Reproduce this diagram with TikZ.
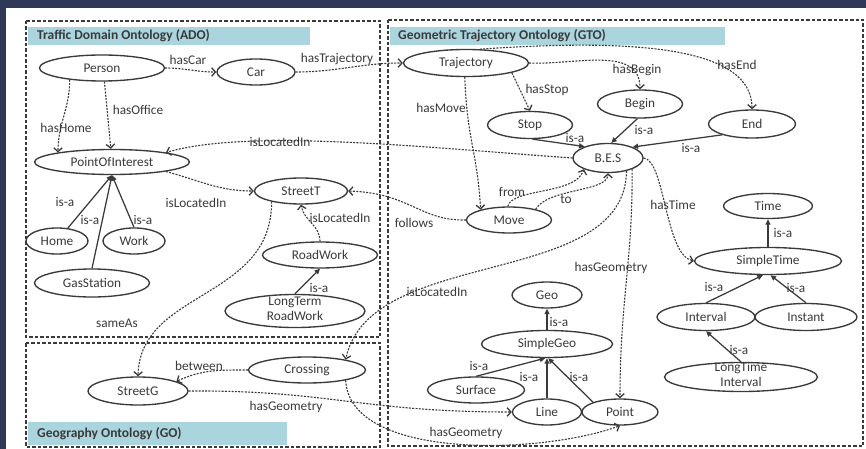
\documentclass[tikz,border=0pt]{standalone}
\usepackage{fontspec}
\setmainfont{Carlito}
\usetikzlibrary{arrows.meta,shapes.geometric}
\definecolor{navy}{RGB}{47,56,87}
\definecolor{hdr}{RGB}{170,212,222}
\definecolor{ink}{RGB}{58,58,58}
\begin{document}
\begin{tikzpicture}[x=1pt,y=-1pt,
  cls/.style={ellipse,draw=ink,line width=1.35pt,inner sep=0pt,text=ink,font=\fontsize{13.3}{15}\selectfont},
  sz/.style 2 args={minimum width=#1pt,minimum height=#2pt},
  rel/.style={draw=ink,line width=1.1pt,dash pattern=on 2pt off 1.3pt,-{Straight Barb[length=3.8pt,width=8.5pt,line width=1.3pt]}},
  isa/.style={draw=ink,line width=1.25pt,-{Triangle[length=5.5pt,width=5pt]}},
  lbl/.style={text=ink,font=\fontsize{13.3}{15}\selectfont,inner sep=0pt},
  grp/.style={draw=ink,line width=1.4pt,dash pattern=on 3.5pt off 2pt},
  hdrtxt/.style={anchor=west,text=ink,font=\bfseries\fontsize{13.5}{15}\selectfont,inner sep=0pt}
]
\useasboundingbox (0,0) rectangle (866,449);
\fill[navy] (0,0) rectangle (866,449);
\fill[white] (6,8) rectangle (866,449);

% group boxes and headers
\draw[grp] (26,21) rectangle (380,337);
\draw[grp] (26,343) rectangle (380,447);
\draw[grp] (388,20) rectangle (863,446);
\fill[hdr] (28,27) rectangle (310,45);
\fill[hdr] (390,27) rectangle (725,45);
\fill[hdr] (28,422) rectangle (287,445);
\node[hdrtxt] (hado) at (37,36) {Traffic Domain Ontology (ADO)};
\node[hdrtxt] (hgto) at (398,36) {Geometric Trajectory Ontology (GTO)};
\node[hdrtxt] (hgo) at (37,434) {Geography Ontology (GO)};

% classes ADO
\node[cls,sz={125}{26}] (person) at (102,68) {Person};
\node[cls,sz={78}{26}] (car) at (256,72) {Car};
\node[cls,sz={155}{25}] (poi) at (112,162) {PointOfInterest};
\node[cls,sz={93}{26}] (streett) at (301,191) {StreetT};
\node[cls,sz={62}{26}] (home) at (57,241) {Home};
\node[cls,sz={62}{26}] (work) at (134,241) {Work};
\node[cls,sz={115}{28}] (gas) at (92,283) {GasStation};
\node[cls,sz={115}{26}] (roadwork) at (320,255) {RoadWork};
\node[cls,sz={140}{33}] (longterm) at (295,311) {\raisebox{-3pt}[0pt][0pt]{\begin{tabular}{@{}c@{}}LongTerm\\RoadWork\end{tabular}}};
% GO
\node[cls,sz={100}{28}] (streetg) at (138,391) {StreetG};
\node[cls,sz={117}{26}] (crossing) at (307,370) {Crossing};
% GTO
\node[cls,sz={125}{27}] (traj) at (466,63) {Trajectory};
\node[cls,sz={85}{28}] (begin) at (640,104) {Begin};
\node[cls,sz={85}{27}] (stop) at (530,125) {Stop};
\node[cls,sz={87}{28}] (endn) at (752,124) {End};
\node[cls,sz={70}{29}] (bes) at (608,158) {B.E.S};
\node[cls,sz={85}{26}] (move) at (509,220) {Move};
\node[cls,sz={89}{25}] (time) at (768,206) {Time};
\node[cls,sz={147}{27}] (simpletime) at (768,261) {SimpleTime};
\node[cls,sz={98}{27}] (interval) at (706,317) {Interval};
\node[cls,sz={102}{27}] (instant) at (806,317) {Instant};
\node[cls,sz={153}{29}] (longtime) at (741,377) {\raisebox{-3pt}[0pt][0pt]{\begin{tabular}{@{}c@{}}LongTime\\Interval\end{tabular}}};
\node[cls,sz={70}{26}] (geo) at (547,295) {Geo};
\node[cls,sz={131}{27}] (simplegeo) at (547,344) {SimpleGeo};
\node[cls,sz={97}{26}] (surface) at (476,390) {Surface};
\node[cls,sz={69}{26}] (line) at (547,412) {Line};
\node[cls,sz={76}{26}] (point) at (620,412) {Point};

% relations
\draw[rel] (person.east) to[out=0,in=180] (car.west);
\draw[rel] (car.east) to[out=0,in=180] (traj.west);
\draw[rel] (person.200) to[out=-90,in=90] (poi.170);
\draw[rel] (person.-80) -- (poi.95);
\draw[rel] (bes.west) .. controls (430,148) and (250,128) .. (poi.10);
\draw[rel] (poi.-10) to[out=-15,in=180] (streett.west);
\draw[rel] (roadwork.north) to[out=90,in=-80] (streett.south);
\draw[rel] (streett.200) .. controls (272,300) and (140,290) .. (streetg.north);
\draw[rel] (move.west) .. controls (420,221) and (410,193) .. (streett.east);
\draw[rel] (crossing.west) to[out=180,in=25] (streetg.14);
\draw[rel] (streetg.east) .. controls (330,390) and (360,412) .. (line.west);
\draw[rel] (crossing.-15) .. controls (350,460) and (540,455) .. (point.south);
\draw[rel] (bes.-35) .. controls (625,290) and (370,245) .. (crossing.15);
\draw[rel] (bes.-25) .. controls (633,260) and (620,300) .. (point.north);
\draw[rel] (bes.east) .. controls (665,160) and (665,255) .. (simpletime.west);
\draw[rel] (traj.-12) -- (stop.north);
\draw[rel] (traj.east) to[out=-3,in=90] (begin.north);
\draw[rel] (traj.45) .. controls (640,38) and (752,48) .. (endn.north);
\draw[rel] (traj.265) .. controls (467,140) and (477,150) .. (move.160);
\draw[rel] (move.95) .. controls (512,188) and (575,195) .. (bes.205);
\draw[rel] (move.22) .. controls (548,188) and (608,192) .. (bes.south);

% is-a
\draw[isa] (home.50) -- (poi.south);
\draw[isa] (gas.north) -- (poi.south);
\draw[isa] (work.north) -- (poi.south);
\draw[isa] (longterm.north) -- (roadwork.south);
\draw[isa] (stop.-80) -- (bes.154);
\draw[isa] (begin.-100) -- (bes.78);
\draw[isa] (endn.200) -- (bes.24);
\draw[isa] (simpletime.north) -- (time.south);
\draw[isa] (interval.north) -- (simpletime.-110);
\draw[isa] (instant.north) -- (simpletime.-80);
\draw[isa] (longtime.north) -- (interval.south);
\draw[isa] (simplegeo.north) -- (geo.south);
\draw[isa] (surface.north) -- (simplegeo.-97);
\draw[isa] (line.north) -- (simplegeo.south);
\draw[isa] (point.160) -- (simplegeo.-85);

% labels
\node[lbl] (l1) at (188,60) {hasCar};
\node[lbl] (l2) at (337,59) {hasTrajectory};
\node[lbl] (l3) at (66,128) {hasHome};
\node[lbl] (l4) at (138,110) {hasOffice};
\node[lbl] (l5) at (280,142) {isLocatedIn};
\node[lbl] (l6) at (196,203) {isLocatedIn};
\node[lbl] (l7) at (65,202) {is-a};
\node[lbl] (l8) at (90,220) {is-a};
\node[lbl] (l9) at (143,220) {is-a};
\node[lbl] (l10) at (340,218) {isLocatedIn};
\node[lbl] (l11) at (414,223) {follows};
\node[lbl] (l12) at (117,323) {sameAs};
\node[lbl] (l13) at (319,288) {is-a};
\node[lbl] (l14) at (199,366) {between};
\node[lbl] (l15) at (286,407) {hasGeometry};
\node[lbl] (l16) at (437,292) {isLocatedIn};
\node[lbl] (l17) at (466,433) {hasGeometry};
\node[lbl] (l18) at (611,268) {hasGeometry};
\node[lbl] (l19) at (575,138) {is-a};
\node[lbl] (l20) at (644,130) {is-a};
\node[lbl] (l21) at (691,148) {is-a};
\node[lbl] (l22) at (547,90) {hasStop};
\node[lbl] (l23) at (637,70) {hasBegin};
\node[lbl] (l24) at (737,65) {hasEnd};
\node[lbl] (l25) at (441,108) {hasMove};
\node[lbl] (l26) at (512,192) {from};
\node[lbl] (l27) at (566,199) {to};
\node[lbl] (l28) at (673,205) {hasTime};
\node[lbl] (l29) at (783,233) {is-a};
\node[lbl] (l30) at (714,287) {is-a};
\node[lbl] (l31) at (796,288) {is-a};
\node[lbl] (l32) at (739,350) {is-a};
\node[lbl] (l33) at (559,322) {is-a};
\node[lbl] (l34) at (479,366) {is-a};
\node[lbl] (l35) at (529,377) {is-a};
\node[lbl] (l36) at (579,377) {is-a};
\end{tikzpicture}
\end{document}
